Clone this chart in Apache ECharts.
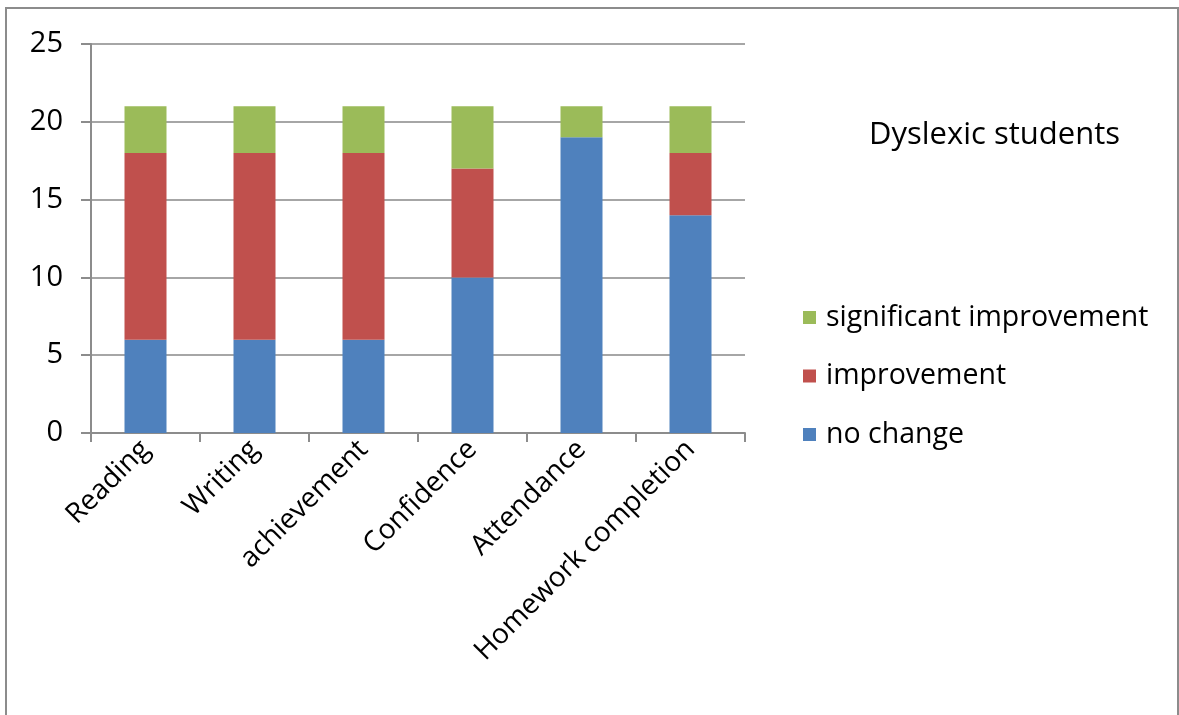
<!DOCTYPE html>
<html>
<head>
<meta charset="utf-8">
<script src="https://cdn.jsdelivr.net/npm/echarts@6/dist/echarts.min.js"></script>
<style>
html,body{margin:0;padding:0;background:#fff;}
#chart{width:1179px;height:715px;}
</style>
</head>
<body>
<div id="chart"></div>
<script>
const categories = ['Reading', 'Writing', 'achievement', 'Confidence', 'Attendance', 'Homework completion'];
const noChange = [6, 6, 6, 10, 19, 14];
const improvement = [12, 12, 12, 7, 0, 4];
const significantImprovement = [3, 3, 3, 4, 2, 3];
const yTicks = [0, 5, 10, 15, 20, 25];

const FONT = '"Open Sans", "Noto Sans", sans-serif';
const chart = echarts.init(document.getElementById('chart'), null, {renderer: 'canvas'});
const barStyle = (c) => ({color: c});
chart.setOption({
  animation: false,
  backgroundColor: '#fff',
  graphic: [{
    type: 'rect',
    shape: {x: 6, y: 8, width: 1172, height: 720},
    style: {fill: 'none', stroke: '#8c8c8c', lineWidth: 2},
    silent: true
  }],
  title: {
    text: 'Dyslexic students',
    left: 864, top: 115,
    textStyle: {fontFamily: FONT, fontSize: 31, fontWeight: 'normal', color: '#000'}
  },
  legend: {
    orient: 'vertical',
    left: 798, top: 298,
    itemWidth: 13, itemHeight: 13,
    itemGap: 29.5,
    icon: 'rect',
    data: ['significant improvement', 'improvement', 'no change'],
    textStyle: {fontFamily: FONT, fontSize: 28.5, color: '#000', padding: [0, 0, 0, 5]}
  },
  grid: {left: 91, top: 44, width: 654, height: 389, containLabel: false},
  xAxis: {
    type: 'category',
    data: categories,
    axisLine: {lineStyle: {color: '#8c8c8c', width: 2}},
    axisTick: {show: true, length: 9, lineStyle: {color: '#8c8c8c', width: 2}},
    axisLabel: {rotate: 45, fontFamily: FONT, fontSize: 28, color: '#000', margin: 12, interval: 0}
  },
  yAxis: {
    type: 'value',
    min: 0, max: 25, interval: 5,
    axisLine: {show: true, lineStyle: {color: '#8c8c8c', width: 2}},
    axisTick: {show: true, inside: false, length: 10, lineStyle: {color: '#8c8c8c', width: 2}},
    splitLine: {lineStyle: {color: '#a6a6a6', width: 2}},
    axisLabel: {fontFamily: FONT, fontSize: 29, color: '#000', margin: 28,
      formatter: (v) => yTicks.includes(v) ? String(v) : ''}
  },
  series: [
    {name: 'no change', type: 'bar', stack: 's', data: noChange, barWidth: 42, itemStyle: barStyle('#4F81BD')},
    {name: 'improvement', type: 'bar', stack: 's', data: improvement, barWidth: 42, itemStyle: barStyle('#C0504D')},
    {name: 'significant improvement', type: 'bar', stack: 's', data: significantImprovement, barWidth: 42, itemStyle: barStyle('#9BBB59')}
  ]
});
</script>
</body>
</html>
